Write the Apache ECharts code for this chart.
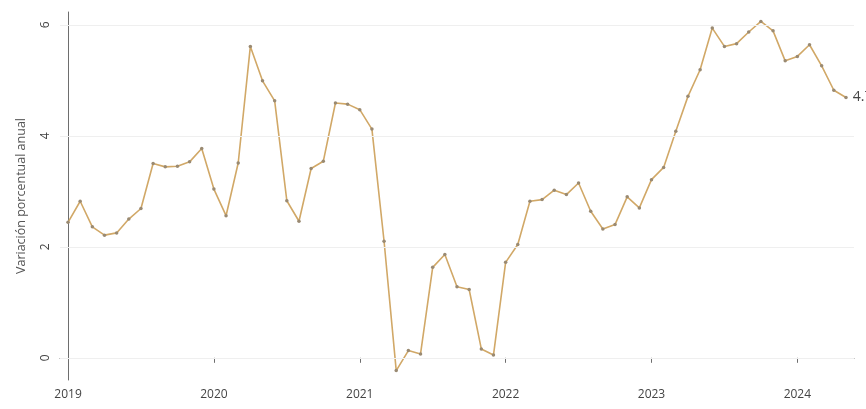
<!DOCTYPE html>
<html>
<head>
<meta charset="utf-8">
<script src="https://cdn.jsdelivr.net/npm/echarts@6/dist/echarts.min.js"></script>
<style>html,body{margin:0;padding:0;background:#fff}#c{width:866px;height:409px}</style>
</head>
<body>
<div id="c"></div>
<script>
const months = [];
for (let y = 2019; y <= 2024; y++) for (let m = 1; m <= 12; m++) months.push(y + '-' + String(m).padStart(2, '0'));
const categories = months.slice(0, 65);
const values = [
  2.44, 2.82, 2.36, 2.21, 2.25, 2.50, 2.69, 3.50, 3.44, 3.45, 3.53, 3.77,
  3.04, 2.56, 3.51, 5.61, 4.99, 4.63, 2.83, 2.46, 3.41, 3.54, 4.59, 4.57,
  4.47, 4.12, 2.10, -0.23, 0.13, 0.07, 1.63, 1.86, 1.28, 1.23, 0.16, 0.05,
  1.72, 2.04, 2.82, 2.85, 3.02, 2.94, 3.15, 2.64, 2.32, 2.40, 2.90, 2.70,
  3.21, 3.43, 4.08, 4.71, 5.19, 5.94, 5.61, 5.66, 5.87, 6.06, 5.89, 5.35,
  5.43, 5.64, 5.26, 4.82, 4.69
];
const yearTicks = [2019, 2020, 2021, 2022, 2023, 2024];
const yTicks = [0, 2, 4, 6];
const yAxisTitle = 'Variación porcentual anual';

const tickIdx = yearTicks.map(y => categories.indexOf(y + '-01'));
const seriesData = values.map((v, i) => [i, v]);
const last = seriesData.length - 1;

const chart = echarts.init(document.getElementById('c'));
const font = '"Open Sans", sans-serif';
chart.setOption({
  animation: false,
  grid: { left: 60, right: 12, top: 12, bottom: 29 },
  xAxis: {
    type: 'value', min: -0.66, max: 64.66,
    axisLine: { lineStyle: { color: '#6e6e6e', width: 1 } },
    axisTick: { show: true, length: 5, lineStyle: { color: '#6e6e6e' }, customValues: tickIdx },
    axisLabel: {
      customValues: tickIdx, color: '#444', fontFamily: font, fontSize: 12, margin: 9,
      formatter: v => categories[Math.round(v)].slice(0, 4)
    },
    splitLine: { show: false }
  },
  yAxis: {
    type: 'value', min: -0.4, max: 6.23,
    name: yAxisTitle, nameLocation: 'middle', nameGap: 32,
    nameTextStyle: { color: '#555', fontFamily: font, fontSize: 12.5 },
    axisLine: { show: true, lineStyle: { color: '#6e6e6e', width: 1 } },
    axisTick: { show: true, length: 5, lineStyle: { color: '#6e6e6e' }, customValues: yTicks },
    axisLabel: { customValues: yTicks, rotate: 90, color: '#444', fontFamily: font, fontSize: 12, margin: 8 },
    splitLine: { show: false }
  },
  series: [
    {
      type: 'line',
      data: seriesData,
      symbol: 'circle', symbolSize: 3.5,
      lineStyle: { color: '#d1a867', width: 1.6 },
      itemStyle: { color: '#9a8a72' },
      markLine: {
        silent: true, symbol: 'none', label: { show: false },
        lineStyle: { color: '#efefef', width: 1, type: 'solid' },
        data: yTicks.map(t => ({ yAxis: t }))
      },
      label: {
        show: true, position: 'right', distance: 5,
        color: '#444', fontFamily: font, fontSize: 14,
        formatter: p => (p.dataIndex === last ? p.value[1].toFixed(1) : '')
      },
      z: 3
    }
  ]
});
</script>
</body>
</html>
